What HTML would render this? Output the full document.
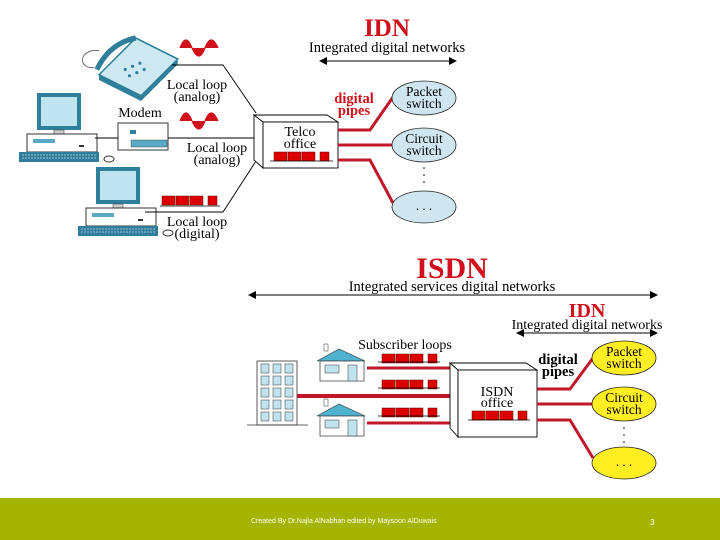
<!DOCTYPE html>
<html><head><meta charset="utf-8"><style>
html,body{margin:0;padding:0;background:#fff;}
#w{position:relative;width:720px;height:540px;overflow:hidden;background:#fff;}
svg text{font-family:"Liberation Serif",serif;}
#foot{position:absolute;left:0;top:498px;width:720px;height:42px;background:#a4b400;}
#foot span{position:absolute;font-family:"Liberation Sans",sans-serif;font-size:7px;color:#fff;top:20px;}
</style></head><body><div id="w">
<svg width="720" height="498" viewBox="0 0 720 498">
<defs>
<marker id="ah" markerWidth="8" markerHeight="8" refX="7" refY="4" orient="auto-start-reverse"><path d="M0,0 L8,4 L0,8 z" fill="#000"/></marker>
<g id="pc">
 <rect x="10" y="0" width="44" height="37" fill="#2f7f9c"/>
 <rect x="14" y="4" width="36" height="29" fill="#bfe3ef"/>
 <rect x="27" y="37" width="10" height="4" fill="#ccc" stroke="#333" stroke-width=".5"/>
 <rect x="0" y="41" width="70" height="18" fill="#fff" stroke="#333"/>
 <rect x="6" y="46" width="22" height="4" fill="#5aa9c4"/>
 <rect x="52" y="52" width="5" height="2" fill="#333"/>
 <rect x="-8" y="59" width="80" height="10" fill="#2f7f9c"/>
 <path d="M-5,62 H70 M-5,65 H70" stroke="#fff" stroke-width=".6" stroke-dasharray="2 1"/>
 <ellipse cx="82" cy="66" rx="5" ry="3" fill="#fff" stroke="#333"/>
</g>
<g id="sq"><rect x="0" y="0" width="13" height="9" fill="#d00" stroke="#600" stroke-width=".5"/><rect x="14" y="0" width="13" height="9" fill="#d00" stroke="#600" stroke-width=".5"/><rect x="28" y="0" width="13" height="9" fill="#d00" stroke="#600" stroke-width=".5"/><rect x="46" y="0" width="9" height="9" fill="#d00" stroke="#600" stroke-width=".5"/></g>
<g id="house"><path d="M0,12 L22,0 L48,12 Z" fill="#4fb3cf" stroke="#333" stroke-width=".6"/><rect x="7" y="-5" width="4" height="7" fill="#fff" stroke="#333" stroke-width=".5"/><rect x="3" y="12" width="44" height="20" fill="#fff" stroke="#333" stroke-width=".7"/><rect x="8" y="16" width="14" height="8" fill="#bfe3ef" stroke="#333" stroke-width=".5"/><rect x="31" y="16" width="9" height="16" fill="#bfe3ef" stroke="#333" stroke-width=".5"/></g>
<g id="wave"><path d="M0,8 Q6,-8 12,8 Z M12,8 Q19,24 25,8 Z M25,8 Q31,-8 38,8 Z" fill="#d0101c"/><path d="M0,8 Q6,-8 12,8 Q19,24 25,8 Q31,-8 38,8" fill="none" stroke="#d0101c" stroke-width="1.2"/></g>
</defs>
<!-- TOP -->
<text x="387" y="36" text-anchor="middle" font-size="25" font-weight="bold" fill="#d0101c">IDN</text>
<text x="387" y="52" text-anchor="middle" font-size="14.5">Integrated digital networks</text>
<line x1="320" y1="61" x2="456" y2="61" stroke="#000" stroke-width="1" marker-start="url(#ah)" marker-end="url(#ah)"/>
<!-- phone -->
<g transform="translate(78,38) scale(1.05)">
 <path d="M20,35 L55,0 L95,20 L60,55 Z" fill="#cfe9f2" stroke="#2f7f9c" stroke-width="1.5"/>
 <path d="M20,35 L60,55 L60,60 L20,40 Z" fill="#2f7f9c"/>
 <path d="M60,55 L95,20 L95,25 L60,60 Z" fill="#2f7f9c"/>
 <path d="M18,30 Q30,5 55,0" stroke="#2f7f9c" stroke-width="5" fill="none"/>
 <path d="M15,28 C0,30 0,10 20,12" stroke="#555" fill="none" stroke-width=".8"/>
 <g fill="#2f7f9c"><circle cx="45" cy="30" r="1.5"/><circle cx="52" cy="27" r="1.5"/><circle cx="59" cy="24" r="1.5"/><circle cx="49" cy="36" r="1.5"/><circle cx="56" cy="33" r="1.5"/><circle cx="63" cy="30" r="1.5"/></g>
</g>
<use href="#wave" x="180" y="40"/>
<use href="#wave" x="180" y="113"/>
<polyline points="172,65 223,65 256,113" fill="none" stroke="#000" stroke-width=".9"/>
<text x="197" y="89" text-anchor="middle" font-size="14">Local loop</text>
<text x="197" y="101" text-anchor="middle" font-size="14">(analog)</text>
<use href="#pc" x="27" y="93"/>
<text x="140" y="117" text-anchor="middle" font-size="14">Modem</text>
<g><rect x="118" y="123" width="50" height="27" fill="#fff" stroke="#333"/><rect x="130" y="130" width="6" height="4" fill="#2f7f9c"/><rect x="131" y="140" width="36" height="7" fill="#5aa9c4" stroke="#333" stroke-width=".4"/></g>
<line x1="95" y1="138" x2="118" y2="138" stroke="#000" stroke-width=".9"/>
<line x1="168" y1="138" x2="260" y2="138" stroke="#000" stroke-width=".9"/>
<text x="217" y="152" text-anchor="middle" font-size="14">Local loop</text>
<text x="217" y="164" text-anchor="middle" font-size="14">(analog)</text>
<use href="#pc" x="86" y="167"/>
<use href="#sq" x="162" y="196"/>
<line x1="160" y1="206" x2="220" y2="206" stroke="#000" stroke-width=".8"/>
<polyline points="145,212 223,212 258,158" fill="none" stroke="#000" stroke-width=".9"/>
<text x="197" y="226" text-anchor="middle" font-size="14">Local loop</text>
<text x="197" y="238" text-anchor="middle" font-size="14">(digital)</text>
<!-- telco cube -->
<path d="M254,115 L263,122 L263,168 L254,160 Z M254,115 L327,115 L338,122 L263,122 Z" fill="#fff" stroke="#000" stroke-width=".9"/>
<rect x="263" y="122" width="75" height="46" fill="#fff" stroke="#000" stroke-width=".9"/>
<text x="300" y="136" text-anchor="middle" font-size="14">Telco</text>
<text x="300" y="148" text-anchor="middle" font-size="14">office</text>
<use href="#sq" x="274" y="152"/>
<line x1="270" y1="161" x2="333" y2="161" stroke="#000" stroke-width=".8"/>
<text x="354" y="103" text-anchor="middle" font-size="14.5" font-weight="bold" fill="#d0101c">digital</text>
<text x="354" y="115" text-anchor="middle" font-size="14.5" font-weight="bold" fill="#d0101c">pipes</text>
<g stroke="#c0182a" stroke-width="3" fill="none"><polyline points="338,130 370,130 393,97"/><line x1="338" y1="145" x2="393" y2="145"/><polyline points="338,160 370,160 393,203"/></g>
<g fill="#cfe6f0" stroke="#222" stroke-width=".8"><ellipse cx="424" cy="98" rx="32" ry="17"/><ellipse cx="424" cy="145" rx="32" ry="17"/><ellipse cx="424" cy="207" rx="32" ry="16"/></g>
<text x="424" y="96" text-anchor="middle" font-size="13.5">Packet</text><text x="424" y="108" text-anchor="middle" font-size="13.5">switch</text>
<text x="424" y="143" text-anchor="middle" font-size="13.5">Circuit</text><text x="424" y="155" text-anchor="middle" font-size="13.5">switch</text>
<text x="424" y="210" text-anchor="middle" font-size="13">. . .</text>
<g fill="#000"><circle cx="424" cy="168" r=".8"/><circle cx="424" cy="175" r=".8"/><circle cx="424" cy="182" r=".8"/></g>
<!-- BOTTOM -->
<text x="452" y="278" text-anchor="middle" font-size="30" font-weight="bold" fill="#d0101c">ISDN</text>
<text x="452" y="291" text-anchor="middle" font-size="14.5">Integrated services digital networks</text>
<line x1="249" y1="295" x2="657" y2="295" stroke="#000" stroke-width="1" marker-start="url(#ah)" marker-end="url(#ah)"/>
<text x="587" y="317" text-anchor="middle" font-size="20" font-weight="bold" fill="#d0101c">IDN</text>
<text x="587" y="329" text-anchor="middle" font-size="14">Integrated digital networks</text>
<line x1="517" y1="333" x2="657" y2="333" stroke="#000" stroke-width="1" marker-start="url(#ah)" marker-end="url(#ah)"/>
<!-- building -->
<rect x="257" y="361" width="40" height="64" fill="#fff" stroke="#333" stroke-width=".8"/>
<g fill="#bfe3ef" stroke="#333" stroke-width=".5">
<rect x="261" y="364" width="8" height="9"/><rect x="273" y="364" width="8" height="9"/><rect x="285" y="364" width="8" height="9"/>
<rect x="261" y="376" width="8" height="9"/><rect x="273" y="376" width="8" height="9"/><rect x="285" y="376" width="8" height="9"/>
<rect x="261" y="388" width="8" height="9"/><rect x="273" y="388" width="8" height="9"/><rect x="285" y="388" width="8" height="9"/>
<rect x="261" y="400" width="8" height="9"/><rect x="273" y="400" width="8" height="9"/><rect x="285" y="400" width="8" height="9"/>
<rect x="261" y="412" width="8" height="9"/><rect x="273" y="412" width="8" height="9"/><rect x="285" y="412" width="8" height="9"/></g>
<line x1="247" y1="425" x2="308" y2="425" stroke="#333" stroke-width=".8"/>
<use href="#house" x="317" y="349"/>
<use href="#house" x="317" y="404"/>
<text x="405" y="349" text-anchor="middle" font-size="14">Subscriber loops</text>
<use href="#sq" x="382" y="354"/><line x1="378" y1="362" x2="440" y2="362" stroke="#000" stroke-width=".7"/>
<use href="#sq" x="382" y="380"/><line x1="378" y1="388" x2="440" y2="388" stroke="#000" stroke-width=".7"/>
<use href="#sq" x="382" y="408"/><line x1="378" y1="416" x2="440" y2="416" stroke="#000" stroke-width=".7"/>
<g stroke="#c0182a" fill="none"><line x1="367" y1="368" x2="453" y2="368" stroke-width="3"/><line x1="297" y1="396" x2="453" y2="396" stroke-width="4"/><line x1="367" y1="423" x2="453" y2="423" stroke-width="3"/></g>
<!-- ISDN cube -->
<path d="M450,363 L458,370 L458,437 L450,428 Z M450,363 L526,363 L537,370 L458,370 Z" fill="#fff" stroke="#000" stroke-width=".9"/>
<rect x="458" y="370" width="79" height="67" fill="#fff" stroke="#000" stroke-width=".9"/>
<text x="497" y="396" text-anchor="middle" font-size="14">ISDN</text>
<text x="497" y="407" text-anchor="middle" font-size="14">office</text>
<use href="#sq" x="472" y="411"/>
<line x1="468" y1="420" x2="530" y2="420" stroke="#000" stroke-width=".8"/>
<text x="558" y="364" text-anchor="middle" font-size="14.5" font-weight="bold">digital</text>
<text x="558" y="376" text-anchor="middle" font-size="14.5" font-weight="bold">pipes</text>
<g stroke="#c0182a" stroke-width="3" fill="none"><polyline points="537,389 570,389 593,358"/><line x1="537" y1="404" x2="593" y2="404"/><polyline points="537,420 570,420 593,458"/></g>
<g fill="#ffee22" stroke="#222" stroke-width=".8"><ellipse cx="624" cy="358" rx="32" ry="17"/><ellipse cx="624" cy="404" rx="32" ry="17"/><ellipse cx="624" cy="463" rx="32" ry="16"/></g>
<text x="624" y="356" text-anchor="middle" font-size="13.5">Packet</text><text x="624" y="368" text-anchor="middle" font-size="13.5">switch</text>
<text x="624" y="402" text-anchor="middle" font-size="13.5">Circuit</text><text x="624" y="414" text-anchor="middle" font-size="13.5">switch</text>
<text x="624" y="466" text-anchor="middle" font-size="13">. . .</text>
<g fill="#000"><circle cx="624" cy="428" r=".8"/><circle cx="624" cy="435" r=".8"/><circle cx="624" cy="442" r=".8"/></g>
</svg>
<div id="foot"><span style="left:251px">Created By Dr.Najla AlNabhan edited by Maysoon AlDuwais</span><span style="left:650px;font-size:8px">3</span></div>
</div></body></html>
